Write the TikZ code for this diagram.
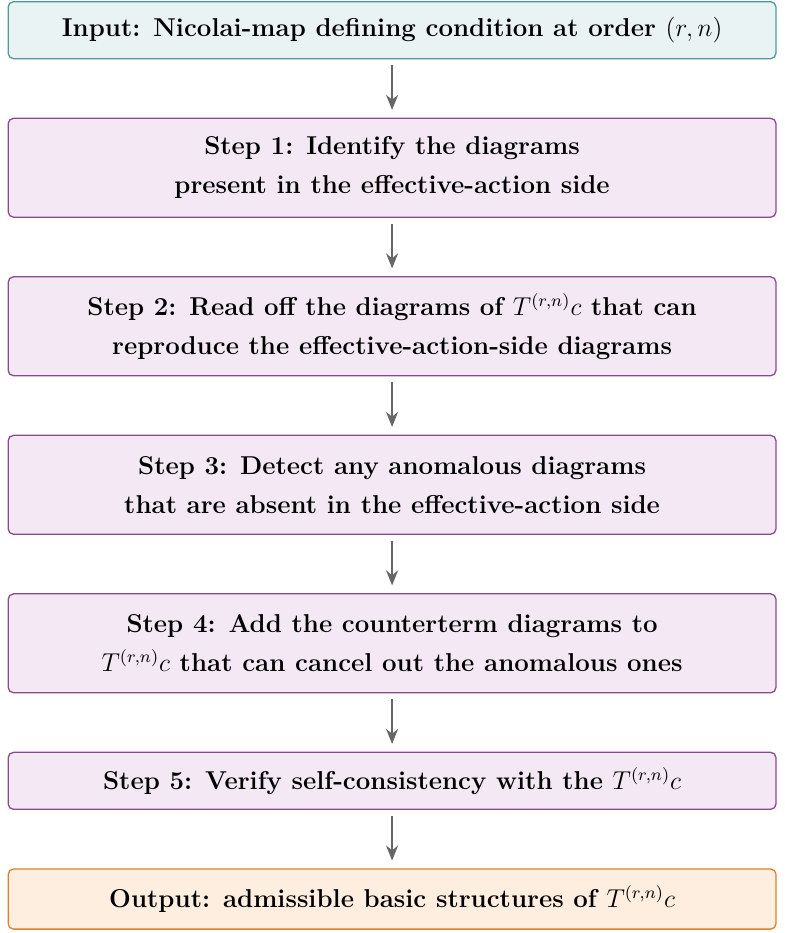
\documentclass[tikz,border=0pt]{standalone}
\usetikzlibrary{positioning,arrows.meta}
\definecolor{inputfill}{HTML}{E9F3F4}
\definecolor{inputdraw}{HTML}{4F9A9A}
\definecolor{stepfill}{HTML}{F3E8F3}
\definecolor{stepdraw}{HTML}{8A4A90}
\definecolor{outfill}{HTML}{FDEEE0}
\definecolor{outdraw}{HTML}{D9822B}
\begin{document}
\begin{tikzpicture}[node distance=27.1pt]
            \tikzset{stagebox/.style={rounded corners=2.5pt, line width=0.6pt, minimum width=357pt,
            align=center, font=\large\bfseries, inner sep=4pt},
            inbox/.style={stagebox, draw=inputdraw, fill=inputfill, minimum height=26.5pt},
            stepbox/.style={stagebox, draw=stepdraw, fill=stepfill, minimum height=46pt},
            stepboxone/.style={stagebox, draw=stepdraw, fill=stepfill, minimum height=26.5pt},
            outbox/.style={stagebox, draw=outdraw, fill=outfill, minimum height=28pt},
            flow/.style={-{Stealth[length=7pt,width=5.6pt]}, draw=black!60, line width=0.9pt,
            shorten <=2.8pt, shorten >=3.6pt}}

            \useasboundingbox (-182.3pt,0pt) rectangle (182.3pt,-433.8pt);

            \node[inbox, anchor=north] (input) at (0,-0.5pt) {Input: Nicolai-map defining condition at order $(r,n)$};
            \node[stepbox, below=of input] (step1) {Step 1: Identify the diagrams\\[4pt] present in the effective-action side};
            \node[stepbox, below=of step1] (step2) {Step 2: Read off the diagrams of $T^{(r,n)}c$ that can\\[4pt] reproduce the effective-action-side diagrams};
            \node[stepbox, below=of step2] (step3) {Step 3: Detect any anomalous diagrams\\[4pt] that are absent in the effective-action side};
            \node[stepbox, below=of step3] (step4) {Step 4: Add the counterterm diagrams to\\[4pt] $T^{(r,n)}c$ that can cancel out the anomalous ones};
            \node[stepboxone, below=of step4] (step5) {Step 5: Verify self-consistency with the $T^{(r,n)}c$};
            \node[outbox, below=of step5] (output) {Output: admissible basic structures of $T^{(r,n)}c$};

            \draw[flow] (input) -- (step1);
            \draw[flow] (step1) -- (step2);
            \draw[flow] (step2) -- (step3);
            \draw[flow] (step3) -- (step4);
            \draw[flow] (step4) -- (step5);
            \draw[flow] (step5) -- (output);
        \end{tikzpicture}
\end{document}
